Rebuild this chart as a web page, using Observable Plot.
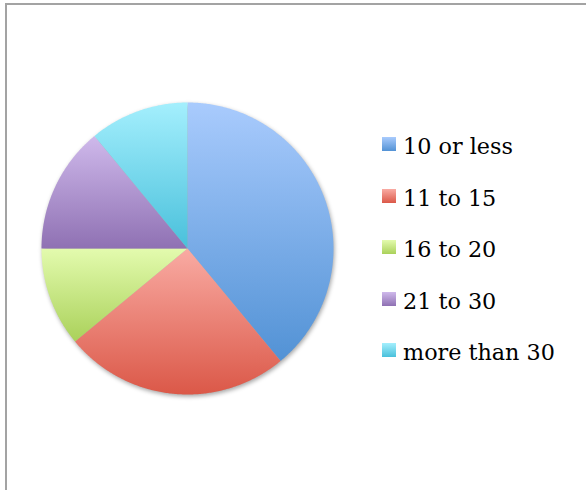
<!DOCTYPE html>
<html>
<head>
<meta charset="utf-8">
<script src="https://cdn.jsdelivr.net/npm/d3@7"></script>
<script src="https://cdn.jsdelivr.net/npm/@observablehq/plot@0.6"></script>
<style>
  html, body { margin: 0; padding: 0; background: #fff; }
  #wrap { position: relative; width: 586px; height: 490px; overflow: hidden; }
  #frame { position: absolute; left: 5px; top: 3px; width: 600px; height: 500px;
           border-left: 2px solid #a3a3a3; border-top: 2px solid #a3a3a3; box-sizing: border-box; }
  #chart { position: absolute; left: 0; top: 0; }
  #chart svg { filter: drop-shadow(1px 2px 2px rgba(0,0,0,0.35)); }
  #legend { position: absolute; left: 382px; top: 130px; font-family: "DejaVu Serif", serif; font-size: 22.3px; color: #000; }
  .item { position: absolute; left: 0; white-space: nowrap; height: 28px; line-height: 28px; }
  .sw { position: absolute; left: 0; top: 7px; width: 14px; height: 14px; }
  .lab { position: absolute; left: 21px; top: 2px; }
</style>
</head>
<body>
<div id="wrap">
  <div id="frame"></div>
  <div id="chart"></div>
  <div id="legend"></div>
</div>
<script>
// Data
const categories = ["10 or less", "11 to 15", "16 to 20", "21 to 30", "more than 30"];
const values = [39, 25, 11, 14, 11];
const topColors = ["#a9cbfd", "#f9aba3", "#e3fbae", "#cfb9eb", "#a4effd"];
const bottomColors = ["#5292d5", "#db5848", "#aad15a", "#8f71b3", "#49c0db"];

// Build slice polygons in unit coordinates via d3.pie
const arcs = d3.pie().sort(null).value(d => d)(values);
const points = [];
arcs.forEach((a, i) => {
  const n = Math.max(2, Math.ceil((a.endAngle - a.startAngle) / (Math.PI / 360)));
  points.push({cat: categories[i], x: 0, y: 0});
  for (let k = 0; k <= n; k++) {
    const t = a.startAngle + (a.endAngle - a.startAngle) * k / n;
    points.push({cat: categories[i], x: Math.sin(t), y: Math.cos(t)});
  }
  points.push({cat: categories[i], x: 0, y: 0});
});

const defs = () => {
  const svgNS = "http://www.w3.org/2000/svg";
  const d = document.createElementNS(svgNS, "defs");
  categories.forEach((c, i) => {
    const g = document.createElementNS(svgNS, "linearGradient");
    g.setAttribute("id", "grad" + i);
    g.setAttribute("x1", "0"); g.setAttribute("y1", "0");
    g.setAttribute("x2", "0"); g.setAttribute("y2", "1");
    [[0, topColors[i]], [1, bottomColors[i]]].forEach(([o, col]) => {
      const s = document.createElementNS(svgNS, "stop");
      s.setAttribute("offset", o);
      s.setAttribute("stop-color", col);
      g.appendChild(s);
    });
    d.appendChild(g);
  });
  return d;
};

const chart = Plot.plot({
  width: 586,
  height: 490,
  margin: 0,
  style: {background: "transparent"},
  x: {domain: [-1, 1], range: [41, 333], axis: null},
  y: {domain: [1, -1], range: [102, 394], axis: null},
  marks: [
    defs,
    ...categories.map((c, i) =>
      Plot.line(points.filter(p => p.cat === c), {
        x: "x", y: "y", fill: `url(#grad${i})`, stroke: "none"
      })
    )
  ]
});
document.getElementById("chart").appendChild(chart);

// Legend
const legend = document.getElementById("legend");
categories.forEach((c, i) => {
  const item = document.createElement("div");
  item.className = "item";
  item.style.top = (i * 51.5) + "px";
  const sw = document.createElement("div");
  sw.className = "sw";
  sw.style.background = `linear-gradient(${topColors[i]}, ${bottomColors[i]})`;
  const lab = document.createElement("span");
  lab.className = "lab";
  lab.textContent = c;
  item.appendChild(sw); item.appendChild(lab);
  legend.appendChild(item);
});
</script>
</body>
</html>
